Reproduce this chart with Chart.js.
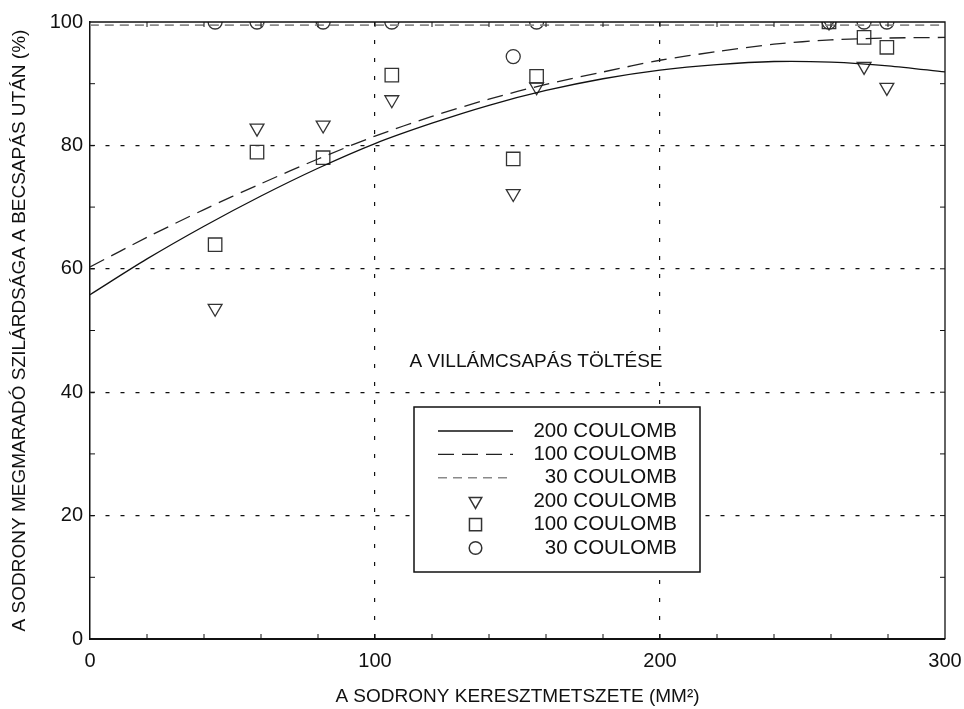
<!DOCTYPE html>
<html>
<head>
<meta charset="utf-8">
<script src="https://cdn.jsdelivr.net/npm/chart.js@4.4.0/dist/chart.umd.min.js"></script>
<style>
  html, body { margin: 0; padding: 0; background: #fff; }
  #wrap { width: 964px; height: 709px; position: relative; }
</style>
</head>
<body>
<div id="wrap"><canvas id="chart"></canvas></div>
<script>
const fitX = [0, 20, 40, 60, 80, 100, 120, 140, 160, 180, 200, 220, 240, 260, 280, 300];
const fit200 = [55.8, 61.6, 66.9, 71.8, 76.3, 80.3, 83.6, 86.5, 88.9, 90.8, 92.2, 93.1, 93.6, 93.5, 92.9, 91.9];
const fit100 = [60.3, 65.1, 69.6, 73.8, 77.8, 81.5, 84.7, 87.5, 89.9, 91.9, 93.8, 95.2, 96.4, 97.1, 97.4, 97.5];
const fit30X = [0, 300];
const fit30 = [99.5, 99.5];

// measured points (cross-section, mm2)
const ptX = [43.9, 58.6, 81.8, 105.9, 148.5, 156.7, 259.3, 271.6, 279.6];
const meas200 = [53.6, 82.8, 83.3, 87.4, 72.2, 89.5, 100, 92.8, 89.4];
const meas100 = [63.9, 78.9, 78.0, 91.4, 77.8, 91.2, 100, 97.5, 95.9];
const meas30 = [100, 100, 100, 100, 94.4, 100, 100, 100, 100];

const xTicks = [0, 100, 200, 300];
const yTicks = [0, 20, 40, 60, 80, 100];

const FONT = '"Liberation Sans", Arial, sans-serif';
const pairs = (xs, ys) => xs.map((x, i) => ({ x: x, y: ys[i] }));

const lineDs = (label, xs, ys, color, dash, width) => ({
  label: label,
  data: pairs(xs, ys),
  showLine: true,
  borderColor: color,
  borderWidth: width,
  borderDash: dash,
  pointRadius: 0,
  tension: 0.3,
  fill: false,
  clip: 0
});

const pointDs = (label, ys, style, radius, rotation) => ({
  label: label,
  data: pairs(ptX, ys),
  showLine: false,
  pointStyle: style,
  pointRadius: radius,
  pointRotation: rotation,
  pointBorderColor: '#333',
  pointBackgroundColor: 'rgba(0,0,0,0)',
  pointBorderWidth: 1.3,
  borderColor: '#333',
  backgroundColor: 'rgba(0,0,0,0)',
  clip: 0
});

// frame, inside ticks, caption and boxed legend
const decor = {
  id: 'decor',
  afterDraw(chart) {
    const { ctx, chartArea: a, scales: { x, y } } = chart;
    ctx.save();
    ctx.strokeStyle = '#111';
    ctx.lineWidth = 1.3;
    ctx.setLineDash([]);
    ctx.beginPath();
    ctx.moveTo(a.left, a.top);
    ctx.lineTo(a.right, a.top);
    ctx.lineTo(a.right, a.bottom);
    ctx.stroke();

    ctx.lineWidth = 1;
    ctx.beginPath();
    for (let v = 20; v < 300; v += 20) {
      const px = x.getPixelForValue(v);
      ctx.moveTo(px, a.bottom); ctx.lineTo(px, a.bottom - 5);
      ctx.moveTo(px, a.top); ctx.lineTo(px, a.top + 5);
    }
    for (let v = 10; v < 100; v += 10) {
      const py = y.getPixelForValue(v);
      ctx.moveTo(a.left, py); ctx.lineTo(a.left + 5, py);
      ctx.moveTo(a.right, py); ctx.lineTo(a.right - 5, py);
    }
    ctx.stroke();

    // caption
    const cx = a.left + 446, cy = a.top + 340;
    ctx.font = '19px ' + FONT;
    ctx.textAlign = 'center';
    ctx.textBaseline = 'middle';
    const cw = ctx.measureText('A VILLÁMCSAPÁS TÖLTÉSE').width;
    ctx.fillStyle = '#fff';
    ctx.fillRect(cx - cw / 2 - 2, cy - 11, cw + 4, 22);
    ctx.fillStyle = '#111';
    ctx.fillText('A VILLÁMCSAPÁS TÖLTÉSE', cx, cy);

    // legend box
    const bx = a.left + 324, by = a.top + 385, bw = 286, bh = 165;
    ctx.fillStyle = '#fff';
    ctx.fillRect(bx, by, bw, bh);
    ctx.lineWidth = 1.5;
    ctx.strokeStyle = '#111';
    ctx.strokeRect(bx, by, bw, bh);
    const sx1 = bx + 24, sx2 = bx + 99, tx = bx + 263;
    ctx.font = '20.5px ' + FONT;
    chart.data.datasets.forEach((ds, i) => {
      const ry = by + 24 + i * 23.4;
      ctx.save();
      if (ds.showLine) {
        ctx.strokeStyle = ds.borderColor;
        ctx.lineWidth = ds.borderWidth;
        ctx.setLineDash(ds.borderDash || []);
        ctx.beginPath();
        ctx.moveTo(sx1, ry); ctx.lineTo(sx2, ry);
        ctx.stroke();
      } else {
        ctx.strokeStyle = ds.pointBorderColor;
        ctx.fillStyle = 'rgba(0,0,0,0)';
        Chart.helpers.drawPoint(ctx, {
          pointStyle: ds.pointStyle,
          rotation: ds.pointRotation,
          radius: ds.pointRadius * 0.9,
          borderWidth: ds.pointBorderWidth
        }, (sx1 + sx2) / 2, ry);
      }
      ctx.restore();
      ctx.fillStyle = '#111';
      ctx.textAlign = 'right';
      ctx.fillText(ds.label, tx, ry);
    });
    ctx.restore();
  }
};

new Chart(document.getElementById('chart'), {
  type: 'scatter',
  data: {
    datasets: [
      lineDs('200 COULOMB', fitX, fit200, '#111', [], 1.3),
      lineDs('100 COULOMB', fitX, fit100, '#222', [16, 8], 1.3),
      lineDs('30 COULOMB', fit30X, fit30, '#8a8a8a', [9, 6], 1.6),
      pointDs('200 COULOMB', meas200, 'triangle', 8, 180),
      pointDs('100 COULOMB', meas100, 'rect', 9.5, 0),
      pointDs('30 COULOMB', meas30, 'circle', 7, 0)
    ]
  },
  options: {
    responsive: true,
    maintainAspectRatio: false,
    animation: false,
    layout: { padding: { top: 22, right: 19, left: 0, bottom: 0 } },
    plugins: {
      legend: { display: false },
      tooltip: { enabled: false }
    },
    scales: {
      x: {
        type: 'linear',
        min: 0,
        max: 300,
        afterBuildTicks: s => { s.ticks = xTicks.map(v => ({ value: v })); },
        afterFit: s => { s.height = 70; s.paddingLeft = 0; s.paddingRight = 0; },
        ticks: { font: { family: FONT, size: 20 }, color: '#111', padding: 10 },
        grid: {
          drawTicks: false,
          lineWidth: 1.2,
          color: c => (c.tick && c.tick.value > 0 && c.tick.value < 300) ? '#111' : 'rgba(0,0,0,0)'
        },
        border: { display: true, color: '#111', width: 2, dash: [4, 14] },
        title: {
          display: true,
          text: 'A SODRONY KERESZTMETSZETE (MM²)',
          font: { family: FONT, size: 19 },
          color: '#111',
          padding: { top: 0, bottom: 1 }
        }
      },
      y: {
        type: 'linear',
        min: 0,
        max: 100,
        afterBuildTicks: s => { s.ticks = yTicks.map(v => ({ value: v })); },
        afterFit: s => { s.width = 90; s.paddingTop = 0; s.paddingBottom = 0; },
        ticks: { font: { family: FONT, size: 20 }, color: '#111', padding: 7 },
        grid: {
          drawTicks: false,
          lineWidth: 1.2,
          color: c => (c.tick && c.tick.value > 0 && c.tick.value < 100) ? '#111' : 'rgba(0,0,0,0)'
        },
        border: { display: true, color: '#111', width: 1.5, dash: [4, 11] },
        title: {
          display: true,
          text: 'A SODRONY MEGMARADÓ SZILÁRDSÁGA A BECSAPÁS UTÁN (%)',
          font: { family: FONT, size: 19 },
          color: '#111',
          padding: { top: 8, bottom: 0 }
        }
      }
    }
  },
  plugins: [decor]
});
</script>
</body>
</html>
